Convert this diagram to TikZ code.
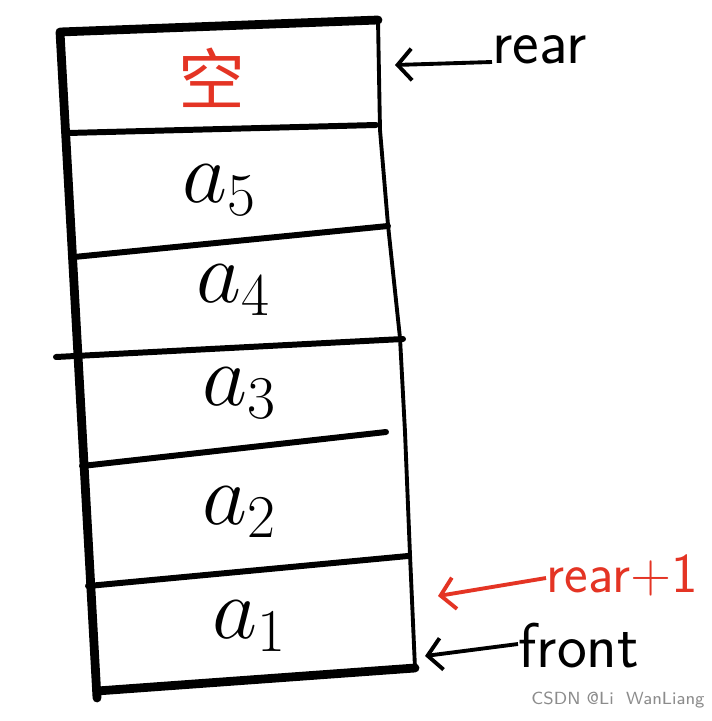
\documentclass[tikz,border=0pt]{standalone}
\usepackage{fontspec}
\newfontfamily\cjk{Noto Sans CJK SC}
\usetikzlibrary{arrows.meta,positioning,calc}
\definecolor{rojo}{RGB}{228,52,36}
\tikzset{
    borde/.style={
        line width=2.5pt,         % marco exterior grueso
        line cap=round,
        line join=round
    },
    divisor/.style={
        line width=1.7pt,         % separación entre celdas
        line cap=round
    },
    ladoder/.style={
        line width=1.1pt,         % lado derecho más fino
        line cap=round,
        line join=round
    },
    elemento/.style={
        font=\fontsize{26}{26}\selectfont  % contenido de cada celda
    },
    etiqueta/.style={
        font=\sffamily\fontsize{18}{18}\selectfont,
        anchor=west,
        inner sep=0pt
    },
    puntero/.style={
        line width=1.1pt,
        -{Straight Barb[length=4pt,width=9pt]}
    }
}

\begin{document}
\begin{tikzpicture}[x=0.01cm, y=-0.01cm]
            \useasboundingbox[fill=white] (0,0) rectangle (712,721);
            % esquinas de la cola
            \coordinate (ti) at (60,32);
            \coordinate (td) at (378,20);
            \coordinate (bi) at (97,698);
            \coordinate (bd) at (415,668);

            \draw[borde] (bi) -- (ti) -- (td);
            \draw[borde] (97,691) -- (bd);
            \draw[ladoder] (td) -- (380,130) -- (388,225) -- (400,338) -- (405,432) -- (410,555) -- (bd);

            % divisores
            \draw[divisor] (68,133) -- (376,125);
            \draw[divisor] (74,257) -- (388,226);
            \draw[divisor] (56,357) -- (403,339);
            \draw[divisor] (82,466) -- (386,432);
            \draw[divisor] (88,586) -- (408,556);

            % contenido
            \node[text=rojo] (c0) at (212,78) {\cjk\fontsize{19}{19}\selectfont 空};
            \node[elemento] (c5) at (220,190) {$a_5$};
            \node[elemento] (c4) at (234,290) {$a_4$};
            \node[elemento] (c3) at (240,393) {$a_3$};
            \node[elemento] (c2) at (240,512) {$a_2$};
            \node[elemento] (c1) at (250,626) {$a_1$};

            % punteros
            \coordinate (prear) at (395,65);
            \coordinate (prear1) at (438,596);
            \coordinate (pfront) at (425,656);
            \node[etiqueta] (rear) at (492,50) {rear};
            \node[etiqueta, text=rojo, font=\sffamily\fontsize{16}{16}\selectfont] (rear1) at (546,575) {rear+1};
            \node[etiqueta] (front) at (518,646) {front};

            \draw[puntero] (rear.west |- 0,62) -- (prear);
            \draw[puntero, draw=rojo] (rear1.west |- 0,578) -- (prear1);
            \draw[puntero] (front.west |- 0,644) -- (pfront);

            \node[text=black!45, font=\sffamily\fontsize{5}{5}\selectfont] (marca) at (618,700) {CSDN @Li\ \ WanLiang};
        \end{tikzpicture}
\end{document}
